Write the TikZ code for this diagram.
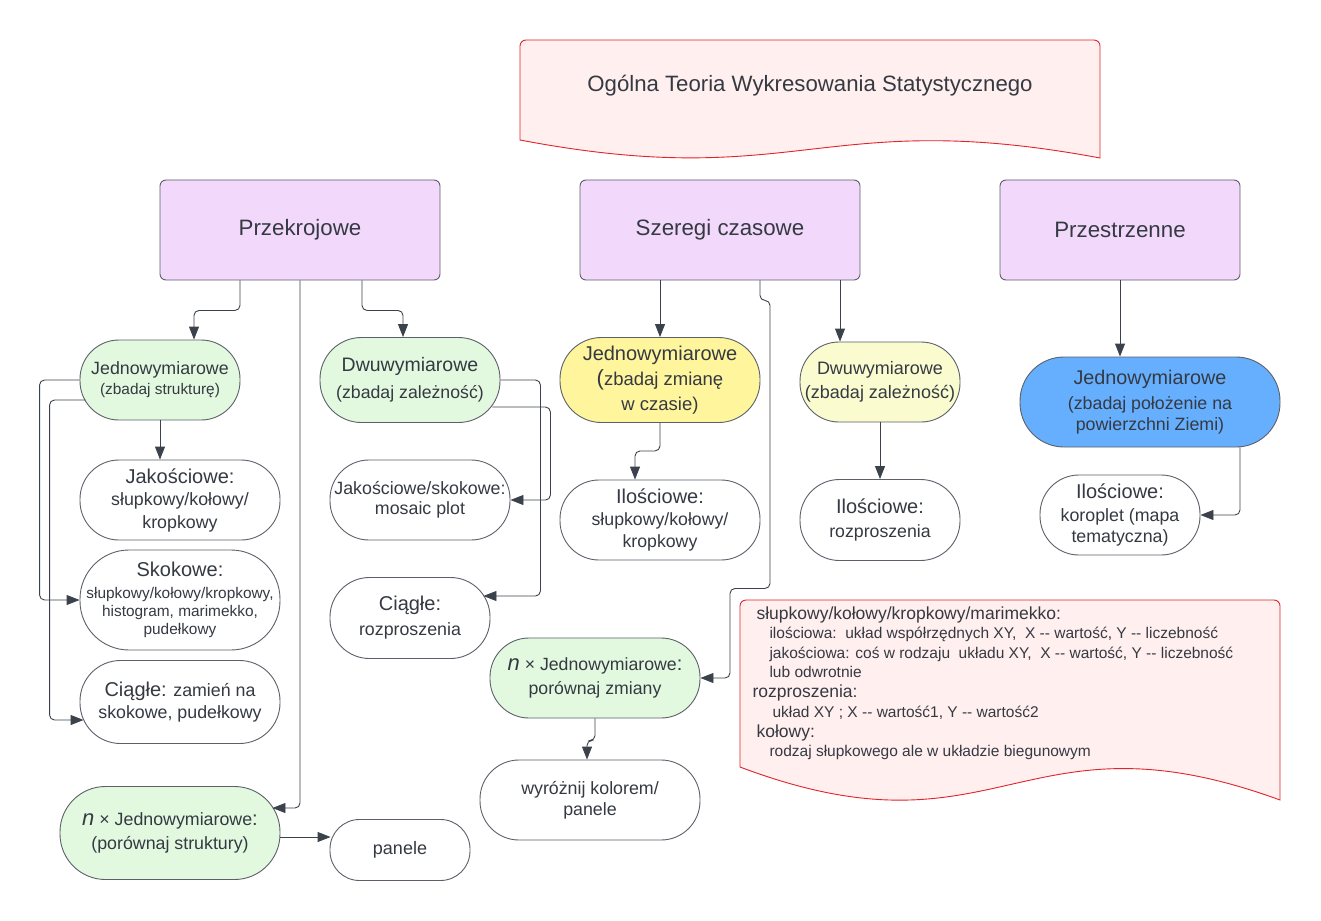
\documentclass[tikz,border=0pt]{standalone}
\usepackage{fontspec}
\setmainfont{Liberation Sans}
\usetikzlibrary{arrows.meta}

\definecolor{lila}{HTML}{F2D9FC}
\definecolor{zielony}{HTML}{E2F9E0}
\definecolor{zolty}{HTML}{FFF59C}
\definecolor{jasnyzolty}{HTML}{FAFBCF}
\definecolor{niebieski}{HTML}{66AFFF}
\definecolor{rozowy}{HTML}{FFEFEF}
\definecolor{czerwony}{HTML}{E2232A}
\definecolor{ramka}{HTML}{5C6068}
\definecolor{strzalka}{HTML}{3C424B}
\definecolor{tekst}{HTML}{353A42}

\newcommand{\hdr}[1]{{\fontsize{20}{24}\selectfont #1}}

\tikzset{
  box/.style={draw=ramka, line width=0.9pt, fill=lila, rounded corners=6, minimum width=#1, minimum height=100, font=\fontsize{22.3}{25}\selectfont},
  pill/.style 2 args={draw=ramka, line width=0.9pt, rounded corners=#2/2-1, minimum width=#1, minimum height=#2, align=center, inner sep=1pt},
  doc/.style={fill=rozowy, draw=czerwony, line width=0.9pt},
  conn/.style={draw=strzalka, line width=0.9pt, rounded corners=5, -{Triangle[length=13pt,width=10pt]}},
  uwaga/.style={anchor=base west, font=\fontsize{15.5}{18}\selectfont},
}

\begin{document}
\begin{tikzpicture}[x=1pt, y=-1pt, every node/.append style={text=tekst}]
  \fill[white] (0,0) rectangle (1321,920);
  \useasboundingbox (0,0) rectangle (1321,920);

  % tytul
  \filldraw[doc] (520,140) {[rounded corners=6] -- (520,40) -- (1100,40)} -- (1100,158)
    .. controls (822,106) and (798,193) .. (520,140) -- cycle;
  \node[font=\fontsize{22.2}{26}\selectfont] (tyt) at (810,86) {Ogólna Teoria Wykresowania Statystycznego};

  % glowne kategorie
  \node[box=280] (prz) at (300,230) {Przekrojowe};
  \node[box=280] (szc) at (720,230) {Szeregi czasowe};
  \node[box=240] (pst) at (1120,230) {Przestrzenne};

  % przekrojowe
  \node[pill={160}{80}, fill=zielony, font=\fontsize{15.4}{20}\selectfont] (j1) at (160,380) {{\fontsize{17.8}{20}\selectfont Jednowymiarowe}\\(zbadaj strukturę)};
  \node[pill={200}{80}, font=\fontsize{17.8}{22.5}\selectfont] (jak) at (180,500) {\hdr{Jakościowe:}\\słupkowy/kołowy/\\kropkowy};
  \node[pill={200}{100}, font=\fontsize{15.4}{18}\selectfont] (sko) at (180,600) {\hdr{Skokowe:}\\[4pt]słupkowy/kołowy/kropkowy,\\histogram, marimekko,\\pudełkowy};
  \node[pill={200}{83}, font=\fontsize{17.8}{22}\selectfont] (cia1) at (180,702) {\hdr{Ciągłe:} zamień na\\skokowe, pudełkowy};
  \node[pill={220}{93}, fill=zielony, font=\fontsize{17.8}{24}\selectfont] (nj1) at (170,833) {{\fontsize{22}{24}\selectfont\itshape n} × Jednowymiarowe{\fontsize{20}{24}\selectfont :}\\(porównaj struktury)};
  \node[pill={140}{61}, font=\fontsize{18}{22}\selectfont] (pan) at (400,850) {panele};
  \node[pill={180}{85}, fill=zielony, font=\fontsize{17.7}{27}\selectfont] (dwu1) at (410,380) {{\fontsize{19.5}{24}\selectfont Dwuwymiarowe}\\(zbadaj zależność)};
  \node[pill={180}{80}, font=\fontsize{17.8}{20}\selectfont] (mos) at (420,500) {Jakościowe/skokowe:\\mosaic plot};
  \node[pill={160}{81}, font=\fontsize{17.8}{25}\selectfont] (cia2) at (410,618) {\hdr{Ciągłe:}\\rozproszenia};

  % szeregi czasowe
  \node[pill={200}{85}, fill=zolty, font=\fontsize{18.5}{25}\selectfont] (jsz) at (660,380) {{\fontsize{20}{24}\selectfont Jednowymiarowe}\\{\fontsize{22}{24}\selectfont(}zbadaj zmianę\\w czasie)};
  \node[pill={200}{80}, font=\fontsize{17.7}{22}\selectfont] (ilo1) at (660,520) {\hdr{Ilościowe:}\\słupkowy/kołowy/\\kropkowy};
  \node[pill={160}{80}, fill=jasnyzolty, font=\fontsize{18}{24}\selectfont] (dwu2) at (880,382) {Dwuwymiarowe\\(zbadaj zależność)};
  \node[pill={160}{81}, font=\fontsize{17.7}{24}\selectfont] (ilo2) at (880,520) {\hdr{Ilościowe:}\\rozproszenia};
  \node[pill={210}{80}, fill=zielony, font=\fontsize{17.7}{24}\selectfont] (njz) at (595,678) {{\fontsize{22}{24}\selectfont\itshape n} × Jednowymiarowe{\fontsize{20}{24}\selectfont :}\\porównaj zmiany};
  \node[pill={220}{80}, font=\fontsize{17.8}{21}\selectfont] (wyr) at (590,800) {wyróżnij kolorem/\\panele};

  % przestrzenne
  \node[pill={260}{90}, fill=niebieski, font=\fontsize{17.8}{21}\selectfont] (jpr) at (1150,402) {{\fontsize{19.8}{24}\selectfont Jednowymiarowe}\\[4pt](zbadaj położenie na\\powierzchni Ziemi)};
  \node[pill={160}{80}, font=\fontsize{17.8}{21}\selectfont] (kor) at (1120,515) {\hdr{Ilościowe:}\\[2pt]koroplet (mapa\\tematyczna)};

  % strzalki
  \draw[conn] ([xshift=-60]prz.south) -- ++(0,30) -| ([xshift=34]j1.north);
  \draw[conn] ([xshift=62]prz.south) -- ++(0,30) -| ([xshift=-7]dwu1.north);
  \draw[conn] (prz.south) |- ([xshift=-8,yshift=25]nj1.east);
  \draw[conn] (j1.south) -- (j1.south |- jak.north);
  \draw[conn] (j1.west) -- ++(-40,0) |- (sko.west);
  \draw[conn] ([xshift=6,yshift=-20]j1.west) -- ++(-36,0) |- ([xshift=4,yshift=-18]cia1.west);
  \draw[conn] ([yshift=-4]nj1.east) -- ([xshift=1,yshift=13]pan.west);
  \draw[conn] (dwu1.east) -- ++(40,0) |- ([xshift=-7,yshift=22]cia2.east);
  \draw[conn] ([xshift=-8,yshift=-27]dwu1.east) -- ++(58,0) |- (mos.east);
  \draw[conn] (jsz.north |- szc.south) -- (jsz.north);
  \draw[conn] ([xshift=40]szc.south) -- ++(0,20) -- ++(10,0) -- ++(0,288) -- ++(-40,0) |- (njz.east);
  \draw[conn] ([xshift=-40]dwu2.north |- szc.south) -- ([xshift=-40]dwu2.north);
  \draw[conn] (jsz.south) -- ++(0,28) -| ([xshift=-25]ilo1.north);
  \draw[conn] (dwu2.south) -- (ilo2.north);
  \draw[conn] (njz.south) -- ++(0,22) -| ([xshift=-3]wyr.north);
  \draw[conn] (pst.south) -- (pst.south |- jpr.north);
  \draw[conn] ([xshift=90]jpr.south) |- (kor.east);

  % notatka
  \filldraw[doc] (740,767) {[rounded corners=6] -- (740,600) -- (1280,600)} -- (1280,800)
    .. controls (1020,705) and (1000,865) .. (740,767) -- cycle;
  \node[uwaga, font=\fontsize{17.5}{20}\selectfont] (u1) at (753,619) {słupkowy/kołowy/kropkowy/marimekko:};
  \node[uwaga] (u2) at (766,638) {ilościowa:\ \ układ współrzędnych XY,\ \ X -{}- wartość, Y -{}- liczebność};
  \node[uwaga] (u3) at (766,658) {jakościowa: coś w rodzaju\ \ układu XY,\ \ X -{}- wartość, Y -{}- liczebność};
  \node[uwaga] (u4) at (766,677) {lub odwrotnie};
  \node[uwaga, font=\fontsize{17.5}{20}\selectfont] (u5) at (749,697) {rozproszenia:};
  \node[uwaga] (u6) at (769,717) {układ XY ; X -{}- wartość1, Y -{}- wartość2};
  \node[uwaga, font=\fontsize{17.5}{20}\selectfont] (u7) at (753,737) {kołowy:};
  \node[uwaga] (u8) at (766,756) {rodzaj słupkowego ale w układzie biegunowym};
\end{tikzpicture}
\end{document}
